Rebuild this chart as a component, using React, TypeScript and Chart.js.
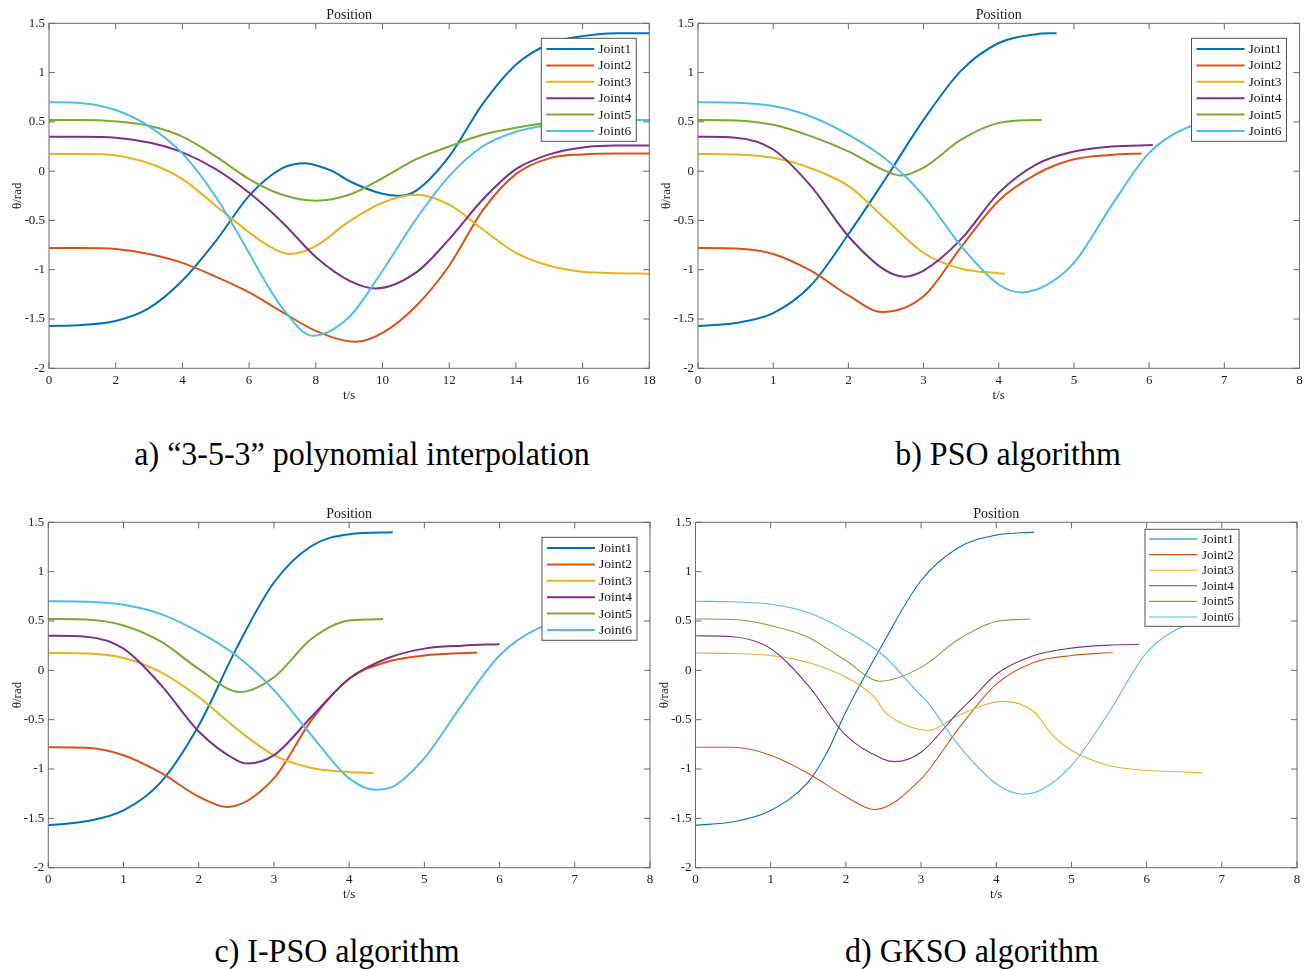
import React, { useEffect, useRef } from 'react';
import { Chart, registerables } from 'chart.js';

Chart.register(...registerables);

type Pt = [number, number];

const FONT = '"Liberation Serif", "Times New Roman", serif';
const JOINT_LABELS = ['Joint1', 'Joint2', 'Joint3', 'Joint4', 'Joint5', 'Joint6'];
const JOINT_COLORS = ['#0072BD', '#D95319', '#EDB120', '#7E2F8E', '#77AC30', '#4DBEEE'];
const Y_MIN = -2;
const Y_MAX = 1.5;
const Y_STEP = 0.5;
const CAPTIONS = [
  'a) \u201c3-5-3\u201d polynomial interpolation',
  'b) PSO algorithm',
  'c) I-PSO algorithm',
  'd) GKSO algorithm',
];

// ---- a) 3-5-3 polynomial interpolation ----
const A_J1: Pt[] = [[0, -1.57], [1, -1.56], [2, -1.52], [3, -1.39], [4, -1.11], [5, -0.71], [6, -0.25], [7, 0.03], [7.7, 0.08], [8, 0.06], [8.5, 0.0], [9, -0.1], [10, -0.23], [10.5, -0.25], [11, -0.2], [12, 0.15], [13, 0.68], [14, 1.08], [15, 1.29], [16, 1.37], [17, 1.4], [18, 1.4]];
const A_J2: Pt[] = [[0, -0.78], [1, -0.78], [2, -0.79], [3, -0.84], [4, -0.93], [5, -1.07], [6, -1.23], [7, -1.43], [8, -1.62], [9.2, -1.73], [10, -1.64], [11, -1.37], [12, -0.96], [13, -0.4], [14, -0.03], [15, 0.13], [16, 0.17], [17, 0.18], [18, 0.18]];
const A_J3: Pt[] = [[0, 0.175], [1, 0.175], [2, 0.16], [3, 0.08], [4, -0.08], [5, -0.35], [6, -0.62], [6.5, -0.74], [7.2, -0.84], [8, -0.76], [9, -0.51], [10, -0.32], [11, -0.24], [12, -0.34], [13, -0.59], [14, -0.83], [15, -0.96], [16, -1.02], [17, -1.035], [18, -1.04]];
const A_J4: Pt[] = [[0, 0.35], [1, 0.35], [2, 0.34], [3, 0.29], [4, 0.19], [5, 0.02], [6, -0.22], [7, -0.52], [8, -0.87], [9, -1.11], [9.8, -1.19], [11, -1.03], [12, -0.69], [13, -0.29], [14, 0.02], [15, 0.17], [16, 0.24], [17, 0.26], [18, 0.26]];
const A_J5: Pt[] = [[0, 0.52], [1, 0.52], [2, 0.505], [3, 0.46], [4, 0.35], [5, 0.15], [6, -0.08], [7, -0.24], [8, -0.3], [9, -0.24], [10, -0.07], [11, 0.12], [12, 0.25], [13, 0.37], [14, 0.44], [15, 0.49], [16, 0.51], [17, 0.52], [18, 0.52]];
const A_J6: Pt[] = [[0, 0.7], [1, 0.69], [2, 0.62], [3, 0.455], [4, 0.18], [5, -0.26], [6, -0.83], [6.5, -1.13], [7, -1.39], [7.9, -1.67], [9, -1.48], [10, -1.01], [11, -0.49], [12, -0.05], [13, 0.25], [14, 0.4], [15, 0.47], [16, 0.505], [17, 0.52], [18, 0.52]];

// ---- b) PSO algorithm ----
const B_J1: Pt[] = [[0, -1.57], [0.5, -1.54], [1, -1.44], [1.5, -1.16], [2, -0.64], [2.5, -0.07], [3, 0.52], [3.5, 1.02], [4, 1.3], [4.5, 1.39], [4.77, 1.4]];
const B_J2: Pt[] = [[0, -0.78], [0.5, -0.785], [1, -0.84], [1.5, -1.01], [2, -1.26], [2.45, -1.43], [3, -1.27], [3.5, -0.77], [4, -0.3], [4.5, -0.03], [5, 0.12], [5.5, 0.165], [5.9, 0.18]];
const B_J3: Pt[] = [[0, 0.175], [0.5, 0.17], [1, 0.135], [1.5, 0.03], [2, -0.15], [2.5, -0.49], [3, -0.83], [3.5, -0.99], [4, -1.035], [4.08, -1.04]];
const B_J4: Pt[] = [[0, 0.35], [0.5, 0.34], [1, 0.22], [1.5, -0.15], [2, -0.66], [2.5, -1.01], [2.75, -1.07], [3, -1.01], [3.5, -0.69], [4, -0.22], [4.5, 0.07], [5, 0.2], [5.5, 0.25], [6.05, 0.265]];
const B_J5: Pt[] = [[0, 0.52], [0.5, 0.515], [1, 0.47], [1.5, 0.355], [2, 0.2], [2.5, 0.0], [2.7, -0.045], [3, 0.035], [3.5, 0.32], [4, 0.49], [4.5, 0.52], [4.57, 0.52]];
const B_J6: Pt[] = [[0, 0.7], [0.5, 0.695], [1, 0.66], [1.5, 0.555], [2, 0.37], [2.5, 0.12], [3, -0.25], [3.5, -0.76], [4, -1.15], [4.3, -1.23], [4.6, -1.17], [5, -0.93], [5.5, -0.35], [6, 0.185], [6.5, 0.44], [7, 0.51], [7.2, 0.52]];

// ---- c) I-PSO algorithm ----
const C_J1: Pt[] = [[0, -1.57], [0.5, -1.53], [1, -1.42], [1.5, -1.13], [2, -0.56], [2.5, 0.22], [3, 0.89], [3.5, 1.26], [4, 1.38], [4.58, 1.4]];
const C_J2: Pt[] = [[0, -0.78], [0.5, -0.785], [1, -0.86], [1.5, -1.04], [2, -1.28], [2.38, -1.385], [3, -1.095], [3.5, -0.505], [4, -0.085], [4.5, 0.085], [5, 0.15], [5.7, 0.18]];
const C_J3: Pt[] = [[0, 0.175], [0.5, 0.17], [1, 0.125], [1.5, -0.02], [2, -0.27], [2.5, -0.59], [3, -0.86], [3.5, -0.99], [4, -1.03], [4.32, -1.04]];
const C_J4: Pt[] = [[0, 0.35], [0.5, 0.34], [1, 0.22], [1.5, -0.15], [2, -0.62], [2.5, -0.91], [2.65, -0.945], [3, -0.86], [3.5, -0.47], [4, -0.085], [4.5, 0.12], [5, 0.22], [5.5, 0.25], [6, 0.265]];
const C_J5: Pt[] = [[0, 0.52], [0.5, 0.515], [1, 0.455], [1.5, 0.29], [2, 0.015], [2.55, -0.22], [3, -0.07], [3.5, 0.32], [4, 0.505], [4.45, 0.52]];
const C_J6: Pt[] = [[0, 0.7], [0.5, 0.695], [1, 0.665], [1.5, 0.57], [2, 0.39], [2.5, 0.15], [3, -0.2], [3.5, -0.66], [4, -1.095], [4.35, -1.21], [4.6, -1.17], [5, -0.89], [5.5, -0.35], [6, 0.15], [6.5, 0.42], [7, 0.51], [7.1, 0.52]];

// ---- d) GKSO algorithm ----
const D_J1: Pt[] = [[0, -1.57], [0.5, -1.535], [1, -1.42], [1.5, -1.13], [1.75, -0.83], [2, -0.42], [2.5, 0.28], [3, 0.91], [3.5, 1.245], [4, 1.37], [4.5, 1.4]];
const D_J2: Pt[] = [[0, -0.78], [0.5, -0.78], [1, -0.86], [1.5, -1.045], [2, -1.28], [2.38, -1.41], [3, -1.1], [3.5, -0.59], [4, -0.14], [4.5, 0.08], [5, 0.15], [5.55, 0.18]];
const D_J3: Pt[] = [[0, 0.175], [0.5, 0.17], [1, 0.15], [1.5, 0.08], [2, -0.07], [2.4, -0.29], [2.5, -0.405], [2.75, -0.54], [3.1, -0.61], [3.5, -0.455], [4.1, -0.315], [4.5, -0.42], [4.75, -0.66], [5, -0.81], [5.5, -0.965], [6, -1.015], [6.5, -1.03], [6.75, -1.04]];
const D_J4: Pt[] = [[0, 0.35], [0.5, 0.34], [1, 0.22], [1.5, -0.155], [2, -0.66], [2.5, -0.9], [2.65, -0.925], [3, -0.83], [3.5, -0.42], [3.65, -0.31], [4, -0.04], [4.5, 0.15], [5, 0.225], [5.5, 0.255], [5.9, 0.265]];
const D_J5: Pt[] = [[0, 0.52], [0.5, 0.515], [1, 0.455], [1.5, 0.335], [1.75, 0.22], [2, 0.1], [2.45, -0.11], [3, 0.03], [3.5, 0.315], [4, 0.495], [4.45, 0.52]];
const D_J6: Pt[] = [[0, 0.7], [0.5, 0.695], [1, 0.67], [1.5, 0.585], [2, 0.4], [2.5, 0.15], [3, -0.255], [3.05, -0.29], [3.5, -0.76], [4, -1.15], [4.35, -1.255], [4.6, -1.21], [5, -0.965], [5.5, -0.425], [6, 0.18], [6.5, 0.455], [6.75, 0.515], [7.25, 0.52]];

const X_MAX = [18, 8, 8, 8];
const X_STEP = [2, 1, 1, 1];

interface PanelLayout {
  left: number; top: number; width: number; height: number;
  yWidth: number; padRight: number; padTop: number; xHeight: number;
  lineWidth: number;
  legend: { right: number; top: number; width: number; height: number; first: number; gap: number; lineX0: number; lineX1: number; textX: number; fontSize: number };
}

const LEG_ABC = { right: 13, top: 15, width: 95, height: 103, first: 10.7, gap: 16.4, lineX0: 5, lineX1: 53, textX: 57, fontSize: 13.5 };

const PANELS: { series: Pt[][]; layout: PanelLayout }[] = [
  { series: [A_J1, A_J2, A_J3, A_J4, A_J5, A_J6], layout: { left: 0, top: 0, width: 660, height: 410, yWidth: 49, padRight: 10.7, padTop: 23.3, xHeight: 41.7, lineWidth: 2, legend: LEG_ABC } },
  { series: [B_J1, B_J2, B_J3, B_J4, B_J5, B_J6], layout: { left: 649, top: 0, width: 662, height: 410, yWidth: 49, padRight: 11.5, padTop: 23.3, xHeight: 41.7, lineWidth: 2, legend: LEG_ABC } },
  { series: [C_J1, C_J2, C_J3, C_J4, C_J5, C_J6], layout: { left: 0, top: 499, width: 660, height: 410, yWidth: 48.3, padRight: 10, padTop: 23.3, xHeight: 41.3, lineWidth: 2, legend: LEG_ABC } },
  { series: [D_J1, D_J2, D_J3, D_J4, D_J5, D_J6], layout: { left: 647, top: 499, width: 664, height: 410, yWidth: 48.5, padRight: 14, padTop: 23.3, xHeight: 41.3, lineWidth: 1.1, legend: { right: 58, top: 7, width: 94, height: 97, first: 9.7, gap: 15.6, lineX0: 4, lineX1: 52, textX: 57, fontSize: 13 } } },
];

const matlabPlugin = {
  id: 'matlabFrame',
  afterDatasetsDraw(chart: any, _args: any, opts: any) {
    const { ctx, chartArea: ca, scales } = chart;
    ctx.save();
    ctx.strokeStyle = '#6a6a6a';
    ctx.lineWidth = 1;
    ctx.strokeRect(ca.left, ca.top, ca.right - ca.left, ca.bottom - ca.top);
    const L = 6;
    ctx.beginPath();
    scales.x.ticks.forEach((t: any) => {
      const px = scales.x.getPixelForValue(t.value);
      ctx.moveTo(px, ca.bottom); ctx.lineTo(px, ca.bottom - L);
      ctx.moveTo(px, ca.top); ctx.lineTo(px, ca.top + L);
    });
    scales.y.ticks.forEach((t: any) => {
      const py = scales.y.getPixelForValue(t.value);
      ctx.moveTo(ca.left, py); ctx.lineTo(ca.left + L, py);
      ctx.moveTo(ca.right, py); ctx.lineTo(ca.right - L, py);
    });
    ctx.stroke();
    const lg = opts.legend;
    const bx = ca.right - lg.right - lg.width;
    const by = ca.top + lg.top;
    ctx.fillStyle = '#ffffff';
    ctx.fillRect(bx, by, lg.width, lg.height);
    ctx.strokeStyle = '#555555';
    ctx.lineWidth = 1;
    ctx.strokeRect(bx, by, lg.width, lg.height);
    chart.data.datasets.forEach((ds: any, i: number) => {
      const y = by + lg.first + i * lg.gap;
      ctx.strokeStyle = ds.borderColor;
      ctx.lineWidth = ds.borderWidth;
      ctx.beginPath();
      ctx.moveTo(bx + lg.lineX0, y);
      ctx.lineTo(bx + lg.lineX1, y);
      ctx.stroke();
      ctx.fillStyle = '#1a1a1a';
      ctx.font = `${lg.fontSize}px ${FONT}`;
      ctx.textAlign = 'left';
      ctx.textBaseline = 'middle';
      ctx.fillText(ds.label, bx + lg.textX, y + 0.5);
    });
    ctx.fillStyle = '#1a1a1a';
    ctx.font = `14px ${FONT}`;
    ctx.textAlign = 'center';
    ctx.textBaseline = 'alphabetic';
    ctx.fillText(opts.title, (ca.left + ca.right) / 2, ca.top - 4);
    ctx.restore();
  },
};

function Panel({ index }: { index: number }) {
  const ref = useRef<HTMLCanvasElement | null>(null);
  const panel = PANELS[index];
  const lay = panel.layout;
  useEffect(() => {
    if (!ref.current) return;
    const datasets = panel.series.map((pts, i) => ({
      label: JOINT_LABELS[i],
      data: pts.map(([x, y]) => ({ x, y })),
      borderColor: JOINT_COLORS[i],
      backgroundColor: JOINT_COLORS[i],
      borderWidth: lay.lineWidth,
      pointRadius: 0,
      fill: false,
      cubicInterpolationMode: 'monotone' as const,
      order: 5 - i,
    }));
    const chart = new Chart(ref.current, {
      type: 'line',
      data: { datasets },
      plugins: [matlabPlugin],
      options: {
        animation: false,
        responsive: false,
        devicePixelRatio: 1,
        layout: { padding: { top: lay.padTop, right: lay.padRight, left: 0, bottom: 0 } },
        plugins: {
          legend: { display: false },
          title: { display: false },
          tooltip: { enabled: false },
          matlabFrame: { legend: lay.legend, title: 'Position' },
        } as any,
        scales: {
          x: {
            type: 'linear',
            min: 0,
            max: X_MAX[index],
            grid: { display: false, drawTicks: false },
            border: { display: false },
            ticks: {
              stepSize: X_STEP[index],
              autoSkip: false,
              maxRotation: 0,
              padding: 4,
              color: '#222',
              font: { family: FONT, size: 13 },
              callback: (v: any) => String(v),
            },
            title: { display: true, text: 't/s', color: '#222', font: { family: FONT, size: 13 }, padding: { top: 0, bottom: 7 } },
            afterFit: (s: any) => { s.height = lay.xHeight; },
          },
          y: {
            type: 'linear',
            min: Y_MIN,
            max: Y_MAX,
            grid: { display: false, drawTicks: false },
            border: { display: false },
            ticks: {
              stepSize: Y_STEP,
              autoSkip: false,
              padding: 4,
              color: '#222',
              font: { family: FONT, size: 13 },
              callback: (v: any) => String(Math.round(Number(v) * 10) / 10),
            },
            title: { display: true, text: '\u03b8/rad', color: '#222', font: { family: FONT, size: 13 }, padding: { top: 9.5, bottom: 0 } },
            afterFit: (s: any) => { s.width = lay.yWidth; },
          },
        },
      } as any,
    });
    return () => chart.destroy();
  }, []);
  return (
    <canvas
      ref={ref}
      width={lay.width}
      height={lay.height}
      style={{ position: 'absolute', left: lay.left, top: lay.top, width: lay.width, height: lay.height }}
    />
  );
}

const CAPTION_POS = [
  { cx: 362, top: 437 },
  { cx: 1008, top: 437 },
  { cx: 337, top: 934 },
  { cx: 972, top: 934 },
];

export default function App() {
  useEffect(() => {
    document.body.style.margin = '0';
  }, []);
  return (
    <div style={{ position: 'absolute', left: 0, top: 0, width: 1311, height: 969, background: '#fff', overflow: 'hidden' }}>
      {PANELS.map((_, i) => <Panel key={i} index={i} />)}
      {CAPTIONS.map((c, i) => (
        <div
          key={c}
          style={{
            position: 'absolute',
            left: CAPTION_POS[i].cx,
            top: CAPTION_POS[i].top,
            transform: 'translateX(-50%) scaleX(0.94)',
            whiteSpace: 'nowrap',
            fontFamily: FONT,
            fontSize: 34,
            lineHeight: '34px',
            color: '#000',
          }}
        >
          {c}
        </div>
      ))}
    </div>
  );
}
